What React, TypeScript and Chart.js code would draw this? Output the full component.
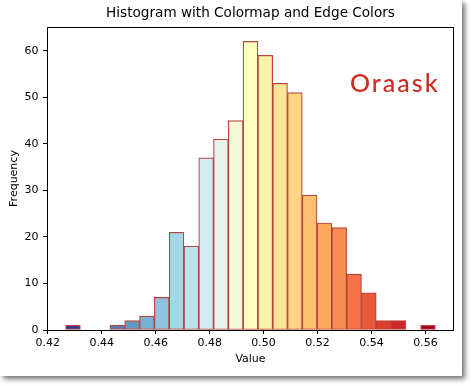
import React, { useEffect, useRef } from "react";
import { Chart, registerables } from "chart.js";

Chart.register(...registerables);

// Histogram bin edges (25 equal bins) and counts
const BIN_EDGES = [
  0.4266, 0.43208, 0.43757, 0.44305, 0.44854, 0.45402, 0.4595, 0.46499, 0.47047,
  0.47596, 0.48144, 0.48692, 0.49241, 0.49789, 0.50338, 0.50886, 0.51434, 0.51983,
  0.52531, 0.5308, 0.53628, 0.54176, 0.54725, 0.55273, 0.55822, 0.5637,
];
const COUNTS = [1, 0, 0, 1, 2, 3, 7, 21, 18, 37, 41, 45, 62, 59, 53, 51, 29, 23, 22, 12, 8, 2, 2, 0, 1];
const X_TICKS = [0.42, 0.44, 0.46, 0.48, 0.5, 0.52, 0.54, 0.56];
const Y_TICKS = [0, 10, 20, 30, 40, 50, 60];

const TITLE = "Histogram with Colormap and Edge Colors";
const X_LABEL = "Value";
const Y_LABEL = "Frequency";

// RdYlBu_r colormap stops
const CMAP = ["#313695", "#4575b4", "#74add1", "#abd9e9", "#e0f3f8", "#ffffbf", "#fee090", "#fdae61", "#f46d43", "#d73027", "#a50026"];
const EDGE = "#b8433b";
const FONT = "'DejaVu Sans', sans-serif";

function hexToRgb(h: string) {
  return [parseInt(h.slice(1, 3), 16), parseInt(h.slice(3, 5), 16), parseInt(h.slice(5, 7), 16)];
}
function cmap(t: number) {
  const p = Math.max(0, Math.min(1, t)) * (CMAP.length - 1);
  const i = Math.min(CMAP.length - 2, Math.floor(p));
  const f = p - i;
  const a = hexToRgb(CMAP[i]);
  const b = hexToRgb(CMAP[i + 1]);
  const c = a.map((v, j) => Math.round(v + (b[j] - v) * f));
  return `rgb(${c[0]},${c[1]},${c[2]})`;
}

const framePlugin = {
  id: "frame",
  afterDatasetsDraw(chart: any) {
    const { ctx, chartArea } = chart;
    ctx.save();
    ctx.strokeStyle = "#000";
    ctx.lineWidth = 1;
    ctx.strokeRect(
      Math.round(chartArea.left) + 0.5,
      Math.round(chartArea.top) + 0.5,
      Math.round(chartArea.right - chartArea.left) - 1,
      Math.round(chartArea.bottom - chartArea.top)
    );
    ctx.restore();
  },
};

export default function App() {
  const ref = useRef<HTMLCanvasElement | null>(null);

  useEffect(() => {
    if (!ref.current) return;
    const data = COUNTS.map((c, k) => ({ x: (BIN_EDGES[k] + BIN_EDGES[k + 1]) / 2, y: c }));
    const colors = COUNTS.map((_, k) => cmap(k / (COUNTS.length - 1)));
    const tickFont = { family: FONT, size: 11 };
    const chart = new Chart(ref.current, {
      type: "bar",
      data: {
        datasets: [
          {
            data: data as any,
            backgroundColor: colors,
            borderColor: EDGE,
            borderWidth: 1.2,
            borderSkipped: false,
            barPercentage: 1,
            categoryPercentage: 1,
          },
        ],
      },
      options: {
        responsive: false,
        animation: false,
        devicePixelRatio: 1,
        layout: { padding: { left: 0, right: 20, top: 0, bottom: 0 }, autoPadding: false },
        plugins: {
          legend: { display: false },
          tooltip: { enabled: false },
          title: {
            display: true,
            text: TITLE,
            color: "#000",
            font: { family: FONT, size: 13.6, weight: "normal" },
            padding: { top: 5.8, bottom: 4.9 },
            fullSize: false,
          } as any,
        },
        scales: {
          x: {
            type: "linear",
            min: 0.4197,
            max: 0.5706,
            offset: false,
            afterBuildTicks: (s: any) => {
              s.ticks = X_TICKS.map((v) => ({ value: v }));
            },
            afterFit: (s: any) => {
              s.height = 56;
            },
            ticks: {
              callback: (v: any) => Number(v).toFixed(2),
              font: tickFont,
              color: "#000",
              padding: 3,
              maxRotation: 0,
              autoSkip: false,
            },
            grid: { display: true, drawOnChartArea: false, drawTicks: true, tickLength: 4, color: "#000", offset: false },
            border: { display: false },
            title: { display: true, text: X_LABEL, color: "#000", font: { family: FONT, size: 11 }, padding: { top: 0, bottom: 20.5 } },
          },
          y: {
            type: "linear",
            min: 0,
            max: 65.1,
            afterBuildTicks: (s: any) => {
              s.ticks = Y_TICKS.map((v) => ({ value: v }));
            },
            afterFit: (s: any) => {
              s.width = 47;
            },
            ticks: { font: tickFont, color: "#000", padding: 4.5 },
            grid: { display: true, drawOnChartArea: false, drawTicks: true, tickLength: 4, color: "#000" },
            border: { display: false },
            title: { display: true, text: Y_LABEL, color: "#000", font: { family: FONT, size: 11 }, padding: { top: 7.3, bottom: 0 } },
          },
        },
      } as any,
      plugins: [framePlugin],
    });
    return () => chart.destroy();
  }, []);

  return (
    <div style={{ position: "fixed", left: 0, top: 0, width: 474, height: 386, background: "#fff", overflow: "hidden" }}>
      <div
        style={{
          position: "absolute",
          left: 0,
          top: 0,
          width: 462,
          height: 376,
          background: "#fff",
          boxShadow: "3px 3px 5px rgba(0,0,0,0.55)",
        }}
      />
      <canvas ref={ref} width={474} height={386} style={{ position: "absolute", left: 0, top: 0, width: 474, height: 386 }} />
      <div
        style={{
          position: "absolute",
          left: 350,
          top: 70,
          fontFamily: "Lato, 'Noto Sans', sans-serif",
          fontSize: 25,
          lineHeight: "24px",
          fontWeight: 500,
          color: "#cf2a1f",
          letterSpacing: 2,
        }}
      >
        Oraask
      </div>
    </div>
  );
}
